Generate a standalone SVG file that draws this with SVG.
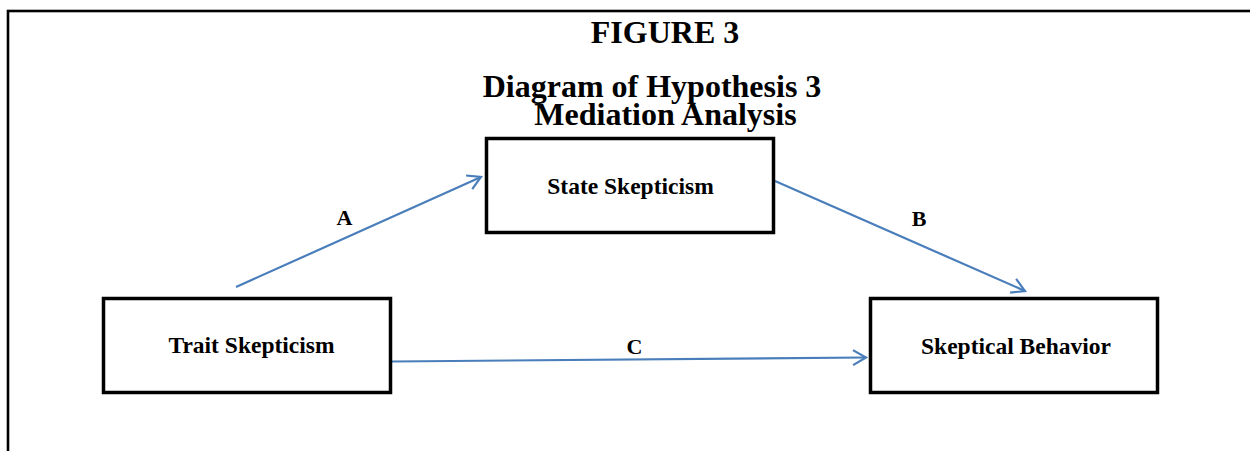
<svg xmlns="http://www.w3.org/2000/svg" width="1250" height="451" viewBox="0 0 1250 451">
<style>
.box{fill:#fff;stroke:#000;stroke-width:3.5}
.t{font-family:"Liberation Serif","Times New Roman",serif;font-weight:bold;fill:#000;text-anchor:middle}
.title{font-size:32px}
.node{font-size:23.5px}
.lab{font-size:22px}
.conn{stroke:#4a7ebb;stroke-width:2.2;fill:none}
</style>
<defs>
<marker id="arr" markerUnits="userSpaceOnUse" markerWidth="20" markerHeight="20" viewBox="-16 -10 20 20" refX="0" refY="0" orient="auto">
<path d="M-13,-7.5 L0,0 L-13,7.5" fill="none" stroke="#4a7ebb" stroke-width="2.2"/>
</marker>
</defs>
<rect width="1250" height="451" fill="#fff"/>
<rect x="8" y="11" width="1300" height="500" fill="none" stroke="#000" stroke-width="2.6"/>
<g id="title">
<text class="t title" x="665" y="43">FIGURE 3</text>
<text class="t title" x="652" y="97">Diagram of Hypothesis 3</text>
<text class="t title" x="665.5" y="125">Mediation Analysis</text>
</g>
<g id="connectors">
<line class="conn" x1="236" y1="287" x2="481" y2="177" marker-end="url(#arr)"/>
<line class="conn" x1="775" y1="181" x2="1025" y2="291" marker-end="url(#arr)"/>
<line class="conn" x1="392" y1="361.5" x2="866" y2="357.5" marker-end="url(#arr)"/>
<text class="t lab" x="344.5" y="225">A</text>
<text class="t lab" x="919" y="226">B</text>
<text class="t lab" x="634.5" y="354">C</text>
</g>
<g id="state">
<rect class="box" x="486.5" y="138.5" width="287" height="94"/>
<text class="t node" x="630.5" y="194">State Skepticism</text>
</g>
<g id="trait">
<rect class="box" x="103.5" y="298.5" width="287" height="94"/>
<text class="t node" x="251.5" y="353">Trait Skepticism</text>
</g>
<g id="behavior">
<rect class="box" x="870.5" y="298.5" width="287" height="94"/>
<text class="t node" x="1016" y="354">Skeptical Behavior</text>
</g>
</svg>
